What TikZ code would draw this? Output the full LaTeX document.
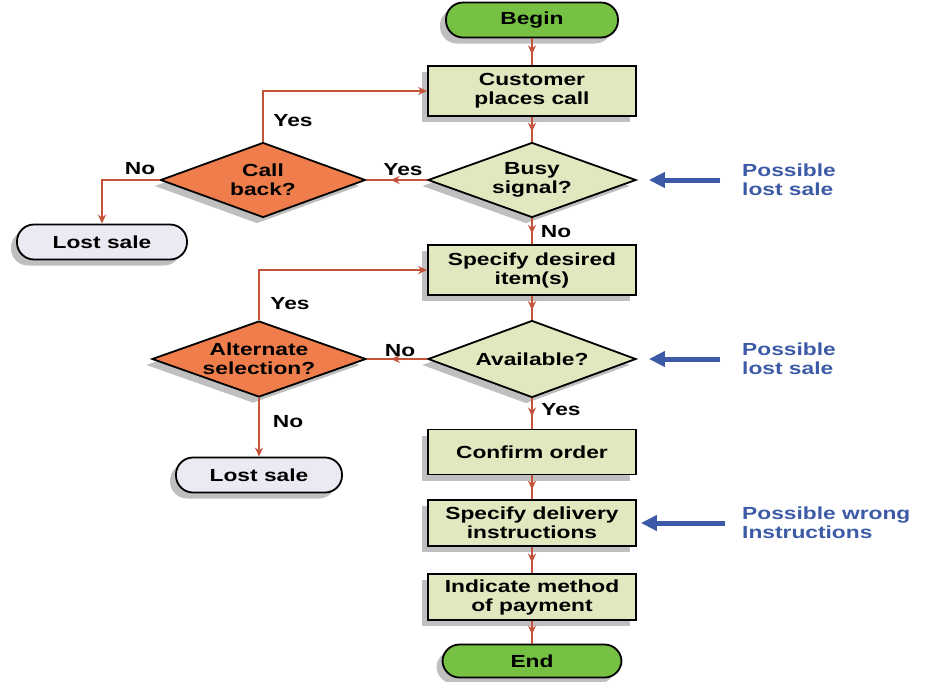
\documentclass[tikz,border=0pt]{standalone}
\usepackage{fontspec}
\setmainfont{Liberation Sans}[FakeStretch=1.3]
\usetikzlibrary{shapes.geometric,arrows.meta,decorations.markings,shadows}
\definecolor{boxfill}{HTML}{E3E7C0}
\definecolor{termgreen}{HTML}{76C043}
\definecolor{orangeD}{HTML}{EF7E4C}
\definecolor{lostfill}{HTML}{EAEAF3}
\definecolor{flowred}{HTML}{C4533A}
\definecolor{noteblue}{HTML}{3C5AA6}
\tikzset{
  base/.style={draw=black, line width=1.8pt, align=center, inner sep=0pt,
    drop shadow={shadow xshift=-6pt, shadow yshift=-6pt, opacity=0.25, fill=black}},
  proc/.style={base, rectangle, fill=boxfill, minimum width=208pt, minimum height=50pt},
  term/.style={base, rectangle, rounded corners=17pt, fill=termgreen, minimum width=172pt, minimum height=35pt},
  lost/.style={base, rectangle, rounded corners=17pt, fill=lostfill, minimum width=170pt, minimum height=35pt},
  dec/.style={base, diamond, fill=boxfill, aspect=2.8, minimum width=208pt, minimum height=75pt},
  decO/.style={dec, fill=orangeD},
  flow/.style={draw=flowred, color=flowred, line width=1.7pt},
  mid/.style={flow, postaction={decorate}, decoration={markings,
    mark=at position 0.6 with {\arrow{Stealth[length=9pt,width=8pt]}}}},
  elbow/.style={flow, -{Stealth[length=9pt,width=8pt]}},
  lbl/.style={inner sep=0pt, text=black},
  note/.style={inner sep=0pt, text=noteblue, align=left, anchor=west},
  bluearrow/.style={draw=noteblue, line width=5pt, -{Triangle[length=16pt,width=15pt]}}
}
\begin{document}
\begin{tikzpicture}[x=1pt, y=-1pt, font=\fontsize{17.5}{19}\selectfont\bfseries]
\useasboundingbox (0,0) rectangle (930,681);

\node[term] (begin) at (532,20) {Begin};
\node[proc] (call) at (532,91) {Customer\\places call};
\node[dec] (busy) at (532,180) {Busy\\signal?};
\node[decO, minimum width=205pt] (cb) at (263,180) {Call\\back?};
\node[lost] (lost1) at (102,242) {Lost sale};
\node[proc] (item) at (532,270) {Specify desired\\item(s)};
\node[dec, minimum height=77pt] (avail) at (532,359) {Available?};
\node[decO, minimum width=214pt, minimum height=76pt] (alt) at (259,359) {Alternate\\selection?};
\node[lost, minimum width=166pt] (lost2) at (259,475) {Lost sale};
\node[proc, minimum height=45pt] (confirm) at (532,452) {Confirm order};
\node[proc, minimum height=46pt] (deliv) at (532,523) {Specify delivery\\instructions};
\node[proc, minimum height=46pt] (pay) at (532,597) {Indicate method\\of payment};
\node[term, minimum width=179pt, minimum height=33pt] (end) at (532,661) {End};

\draw[mid] (begin) -- (call);
\draw[mid] (call) -- (busy);
\draw[mid] (busy.west) -- (cb.east);
\draw[elbow] (cb.north) |- (call.west);
\draw[elbow] (cb.west) -| (lost1.north);
\draw[mid] (busy.south) -- (item.north);
\draw[mid] (item) -- (avail);
\draw[mid] (avail.west) -- (alt.east);
\draw[elbow] (alt.north) |- (item.west);
\draw[elbow] (alt.south) -- (lost2.north);
\draw[mid] (avail.south) -- (confirm.north);
\draw[mid] (confirm) -- (deliv);
\draw[mid] (deliv) -- (pay);
\draw[mid] (pay) -- (end);

\node[lbl] (y1) at (293,121) {Yes};
\node[lbl] (n1) at (140,169) {No};
\node[lbl] (y2) at (403,170) {Yes};
\node[lbl] (n2) at (556,232) {No};
\node[lbl] (y3) at (290,304) {Yes};
\node[lbl] (n3) at (400,351) {No};
\node[lbl] (n4) at (288,422) {No};
\node[lbl] (y4) at (561,410) {Yes};

\node[note] (note1) at (742,180) {Possible\\lost sale};
\node[note] (note2) at (742,359) {Possible\\lost sale};
\node[note] (note3) at (742,523) {Possible wrong\\Instructions};
\draw[bluearrow] ([xshift=-22pt]note1.west) -- ([xshift=12pt]busy.east);
\draw[bluearrow] ([xshift=-22pt]note2.west) -- ([xshift=12pt]avail.east);
\draw[bluearrow] ([xshift=-17pt]note3.west) -- ([xshift=4pt]deliv.east);
\end{tikzpicture}
\end{document}
